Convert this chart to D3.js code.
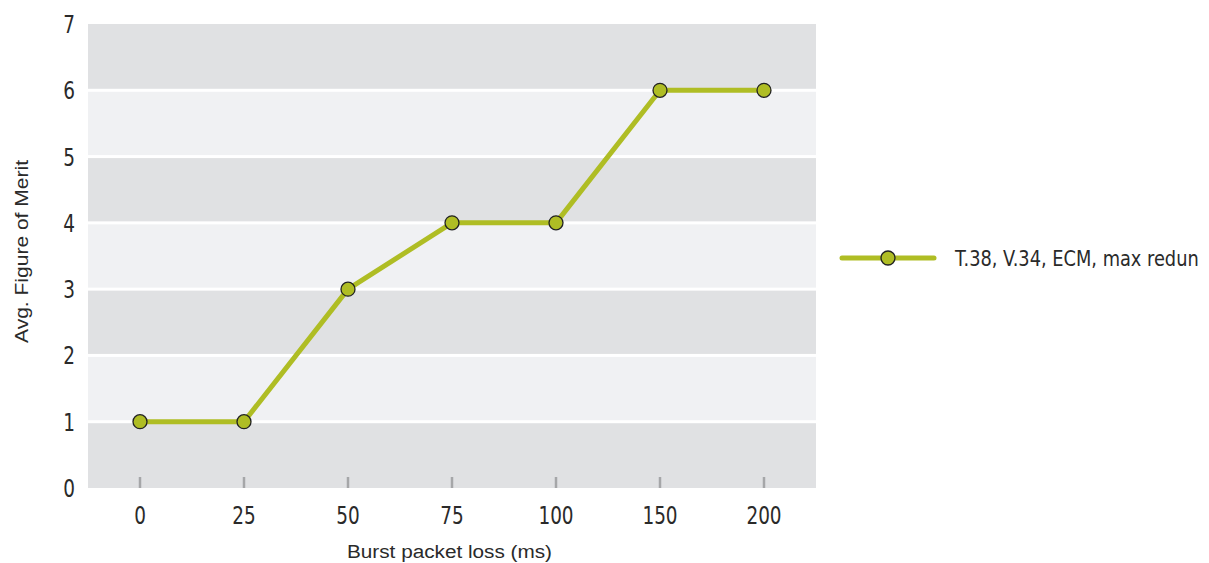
<!DOCTYPE html>
<html><head><meta charset="utf-8">
<script src="https://cdn.jsdelivr.net/npm/d3@7"></script>
<style>
body{margin:0;background:#fff;}
text{fill:#2a2a2a;}
.cond{font-family:"DejaVu Sans Condensed","DejaVu Sans",sans-serif;}
.reg{font-family:"Liberation Sans",Arial,sans-serif;}
</style></head>
<body>
<svg id="c" width="1209" height="563"></svg>
<script>
const categories = ["0","25","50","75","100","150","200"];
const values = [1,1,3,4,4,6,6];
const yTicks = [0,1,2,3,4,5,6,7];
const seriesName = "T.38, V.34, ECM, max redun";
const xTitle = "Burst packet loss (ms)";
const yTitle = "Avg. Figure of Merit";

const svg = d3.select("#c");
const L = 88, R = 816, T = 24, B = 488;
const x = d3.scaleBand().domain(categories).range([L, R]).padding(0);
const y = d3.scaleLinear().domain([0, 7]).range([B, T]);
const green = "#afbd24";
const cx = c => x(c) + x.bandwidth() / 2;
const SX = 0.82;

// bands
const bands = d3.range(0, 7);
svg.append("g").selectAll("rect").data(bands).join("rect")
  .attr("x", L).attr("width", R - L)
  .attr("y", d => y(d + 1) + (d === 6 ? 0 : 1.5))
  .attr("height", d => y(d) - y(d + 1) - (d === 6 ? 1.5 : 3) + (d === 0 ? 1.5 : 0))
  .attr("fill", d => d % 2 === 0 ? "#e0e1e3" : "#f0f1f3");

// x ticks (gray marks)
svg.append("g").selectAll("line").data(categories).join("line")
  .attr("x1", cx).attr("x2", cx)
  .attr("y1", B - 11).attr("y2", B)
  .attr("stroke", "#a5a6a8").attr("stroke-width", 2.5);

// x labels
svg.append("g").selectAll("text").data(categories).join("text")
  .attr("class", "cond")
  .attr("transform", d => `translate(${cx(d)},524) scale(${SX},1)`)
  .attr("text-anchor", "middle").attr("font-size", 25).text(d => d);

// y labels
svg.append("g").selectAll("text").data(yTicks).join("text")
  .attr("class", "cond")
  .attr("transform", d => `translate(75,${y(d) + 9}) scale(${SX},1)`)
  .attr("text-anchor", "end").attr("font-size", 25).text(d => d);

// titles
svg.append("text").attr("class", "reg").attr("x", 347).attr("y", 558)
  .attr("font-size", 18).attr("textLength", 205).attr("lengthAdjust", "spacingAndGlyphs").text(xTitle);
svg.append("text").attr("class", "reg").attr("transform", "translate(28,343) rotate(-90)")
  .attr("x", 0).attr("y", 0)
  .attr("font-size", 18).attr("textLength", 183).attr("lengthAdjust", "spacingAndGlyphs").text(yTitle);

// line
const line = d3.line().x((d, i) => cx(categories[i])).y(d => y(d));
svg.append("path").datum(values).attr("d", line)
  .attr("fill", "none").attr("stroke", green).attr("stroke-width", 5).attr("stroke-linejoin", "round");
svg.append("g").selectAll("circle").data(values).join("circle")
  .attr("cx", (d, i) => cx(categories[i])).attr("cy", d => y(d))
  .attr("r", 7).attr("fill", green).attr("stroke", "#222").attr("stroke-width", 1.3);

// legend
const ly = 258;
svg.append("line").attr("x1", 842).attr("x2", 934).attr("y1", ly).attr("y2", ly)
  .attr("stroke", green).attr("stroke-width", 5).attr("stroke-linecap", "round");
svg.append("circle").attr("cx", 888).attr("cy", ly).attr("r", 7)
  .attr("fill", green).attr("stroke", "#222").attr("stroke-width", 1.3);
const leg = svg.append("text").attr("class", "cond").attr("font-size", 22).text(seriesName);
const w = leg.node().getComputedTextLength();
leg.attr("transform", `translate(955,${ly + 8}) scale(${244 / w},1)`);
</script>
</body></html>
